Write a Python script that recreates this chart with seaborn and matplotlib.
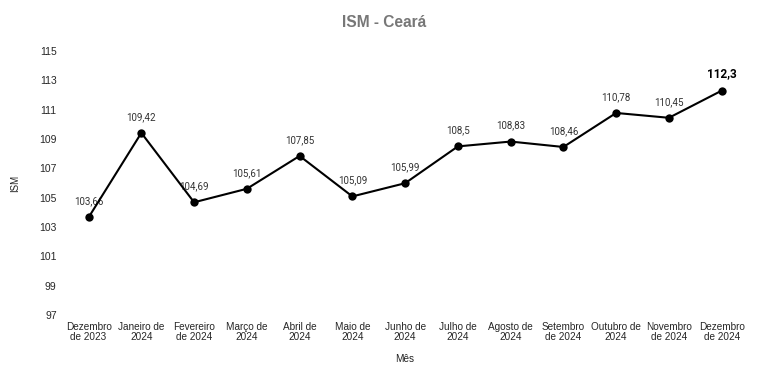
import pandas as pd
import matplotlib.pyplot as plt
import seaborn as sns

meses = ["Dezembro\nde 2023", "Janeiro de\n2024", "Fevereiro\nde 2024", "Março de\n2024",
         "Abril de\n2024", "Maio de\n2024", "Junho de\n2024", "Julho de\n2024",
         "Agosto de\n2024", "Setembro\nde 2024", "Outubro de\n2024", "Novembro\nde 2024",
         "Dezembro\nde 2024"]
ism = [103.66, 109.42, 104.69, 105.61, 107.85, 105.09, 105.99, 108.5, 108.83, 108.46,
       110.78, 110.45, 112.3]
rotulos = ["103,66", "109,42", "104,69", "105,61", "107,85", "105,09", "105,99", "108,5",
           "108,83", "108,46", "110,78", "110,45", "112,3"]
yticks = [97, 99, 101, 103, 105, 107, 109, 111, 113, 115]

sns.set_style("white")
plt.rcParams["font.family"] = ["Liberation Sans", "DejaVu Sans"]

df = pd.DataFrame({"Mês": meses, "ISM": ism, "pos": range(len(meses))})

fig = plt.figure(figsize=(7.68, 3.81), dpi=100)
ax = fig.add_axes([0.081, 0.173, 0.893, 0.693])
sns.lineplot(data=df, x="pos", y="ISM", ax=ax, color="black", linewidth=1.5,
             marker="o", markersize=6, markeredgewidth=0, clip_on=False, zorder=5)

for i, (v, lab) in enumerate(zip(ism, rotulos)):
    last = i == len(ism) - 1
    ax.annotate(lab, xy=(i, v), xytext=(0, 12.5 if last else 11.5), textcoords="offset points",
                ha="center", va="center", fontsize=8.5 if last else 7,
                fontweight="bold" if last else "normal", zorder=1,
                color="black" if last else "#333333", family=["Roboto", "DejaVu Sans"],
                arrowprops=dict(arrowstyle="-", color="#ececec", lw=0.8, shrinkA=4, shrinkB=5))

ax.set_xlim(-0.5, len(meses) - 0.5)
ax.set_ylim(97, 115)
ax.set_yticks(yticks)
ax.set_xticks(range(len(meses)))
ax.set_xticklabels(meses, fontsize=7.2, linespacing=0.95)
ax.tick_params(axis="y", labelsize=7.5, length=0, pad=4)
ax.tick_params(axis="x", length=0, pad=5)
for s in ax.spines.values():
    s.set_visible(False)

ax.set_xlabel("Mês", fontsize=7.2, labelpad=9, color="#222222")
ax.set_ylabel("ISM", fontsize=7, labelpad=14, color="#222222")
fig.suptitle("ISM - Ceará", x=0.5, y=0.96, fontsize=11.2, fontweight="bold", color="#777777")

plt.savefig("out.png", dpi=100)
